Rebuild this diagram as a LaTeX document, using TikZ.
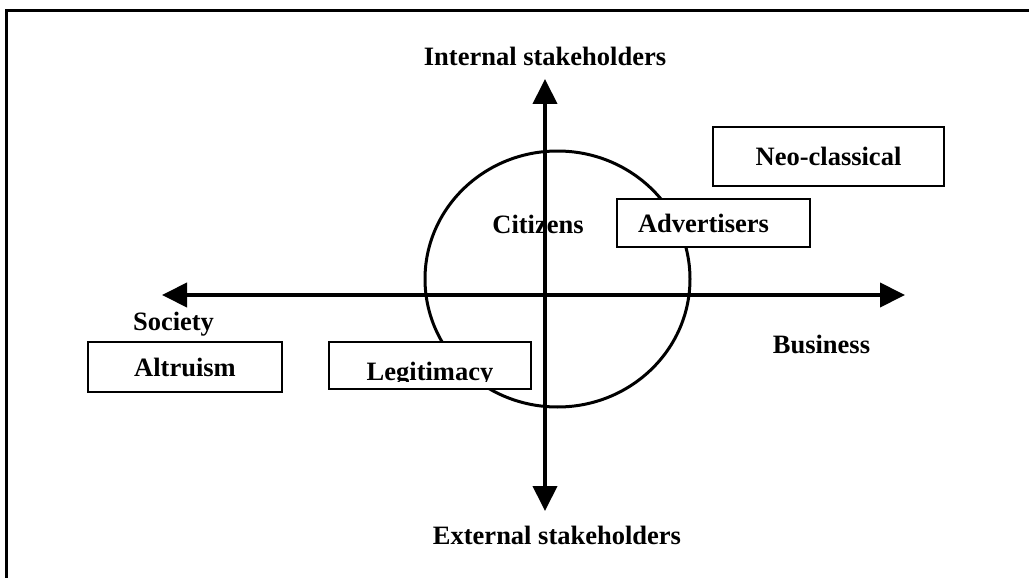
\documentclass[tikz,border=0pt]{standalone}
\usepackage{fontspec}
\setmainfont{Liberation Serif}
\usetikzlibrary{arrows.meta,shapes,positioning}
\tikzstyle{box} = [
  rectangle, draw, fill=white, line width=2.5pt, inner sep=0pt,
  font=\bfseries\fontsize{26.5}{30}\selectfont
]
\tikzstyle{axislabel} = [
  anchor=base, inner sep=0pt, font=\bfseries\fontsize{26.5}{30}\selectfont
]
\tikzstyle{arrowaxis} = [
  line width=4pt,
  {Triangle[length=25pt,width=24pt]}-{Triangle[length=25pt,width=24pt]}
]

\begin{document}
\begin{tikzpicture}[x=1pt, y=-1pt]
    \useasboundingbox (0,0) rectangle (1029,578);
    \draw[line width=3pt] (6,600) |- (1050,11);

    \node[draw, ellipse, line width=3pt, inner sep=0pt, minimum width=265pt,
      minimum height=256pt] (market) at (557.5,279) {};

    \coordinate (society) at (162,295);
    \coordinate (business) at (905,295);
    \coordinate (internal) at (545,79);
    \coordinate (external) at (545,511);
    \draw[arrowaxis] (society) -- (business);
    \draw[arrowaxis] (external) -- (internal);

    \node[axislabel] (internal-lbl) at (545,66) {Internal stakeholders};
    \node[axislabel] (external-lbl) at (557,544) {External stakeholders};
    \node[axislabel] (society-lbl) at (173.5,330) {Society};
    \node[axislabel] (business-lbl) at (821.5,353) {Business};
    \node[axislabel] (citizens) at (538,233) {Citizens};

    \node[box, minimum width=231pt, minimum height=59pt] (neo) at (828.5,156.5) {Neo-classical};
    \node[box, minimum height=48pt, inner xsep=21pt, text width=151pt, align=left] (adv) at (713.5,223) {Advertisers};
    \node[box, minimum width=194pt, minimum height=50pt] (altruism) at (185,367) {Altruism};
    \node[box, minimum width=202pt, minimum height=47pt] (legit) at (430,365.5) {};
    \begin{scope}
      \clip (legit.north west) rectangle ([yshift=9pt] legit.south east);
      \node[axislabel] (legit-text) at (430,380) {Legitimacy};
    \end{scope}
\end{tikzpicture}
\end{document}
